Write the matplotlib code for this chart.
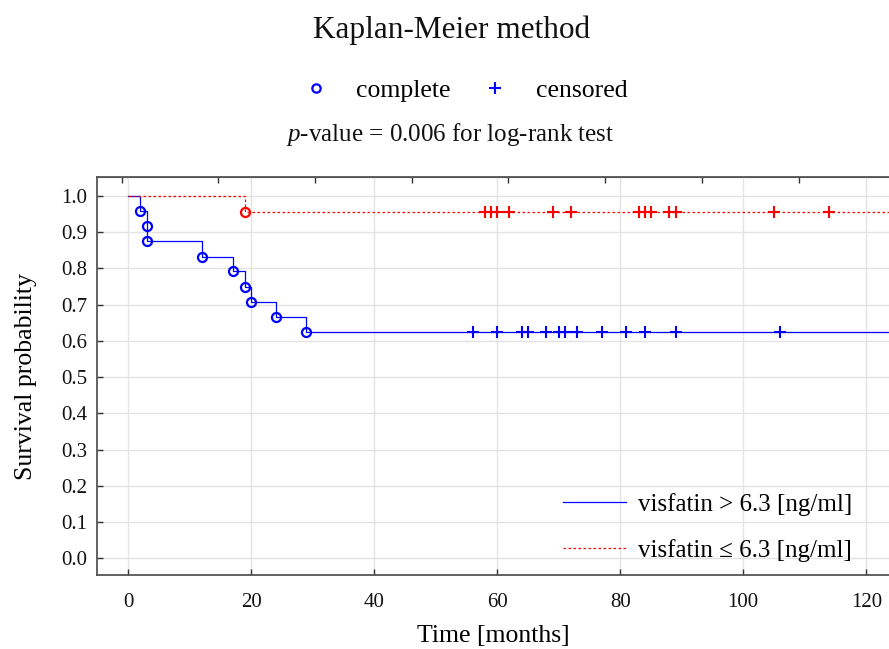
import numpy as np
import matplotlib
matplotlib.use("Agg")
import matplotlib.pyplot as plt
from matplotlib.lines import Line2D

# Group: visfatin > 6.3 ng/ml (blue)
high_event_times = [2, 3, 3, 12, 17, 19, 20, 24, 29]
high_event_surv = [0.958, 0.917, 0.875, 0.833, 0.792, 0.750, 0.708, 0.667, 0.625]
high_censor_times = [56, 60, 64, 65, 68, 70, 71, 73, 77, 81, 84, 89, 106]

# Group: visfatin <= 6.3 ng/ml (red)
low_event_times = [19]
low_event_surv = [0.957]
low_censor_times = [58, 59, 60, 62, 69, 72, 83, 84, 85, 88, 89, 105, 114]

end_time = 124
x_ticks = [0, 20, 40, 60, 80, 100, 120]
y_ticks = [0.0, 0.1, 0.2, 0.3, 0.4, 0.5, 0.6, 0.7, 0.8, 0.9, 1.0]

BLUE = "#0000ff"
RED = "#ff0000"
FONT = "Liberation Serif"

plt.rcParams["font.family"] = FONT
plt.rcParams["mathtext.fontset"] = "custom"
plt.rcParams["mathtext.rm"] = FONT
plt.rcParams["mathtext.it"] = FONT + ":italic"


def step_curve(event_times, event_surv):
    """Build Kaplan-Meier step coordinates starting at (0, 1)."""
    xs = [0] + list(event_times) + [end_time]
    ys = [1.0] + list(event_surv) + [event_surv[-1]]
    return xs, ys


fig = plt.figure(figsize=(8.89, 6.49), dpi=100)
ax = fig.add_axes([0.1088, 0.114, 0.8912, 0.613])

# blue group
hx, hy = step_curve(high_event_times, high_event_surv)
ax.step(hx, hy, where="post", color=BLUE, lw=0.9, zorder=3)
ax.plot(high_event_times, high_event_surv, "o", mfc="none", mec=BLUE,
        ms=6.5, mew=1.6, zorder=4)
ax.plot(high_censor_times, [high_event_surv[-1]] * len(high_censor_times), "+",
        color=BLUE, ms=8, mew=1.5, zorder=4)

# red group
lx, ly = step_curve(low_event_times, low_event_surv)
ax.step(lx, ly, where="post", color=RED, lw=0.9, ls=(0, (2, 2)), zorder=3)
ax.plot(low_event_times, low_event_surv, "o", mfc="none", mec=RED,
        ms=6.5, mew=1.6, zorder=4)
ax.plot(low_censor_times, [low_event_surv[-1]] * len(low_censor_times), "+",
        color=RED, ms=8, mew=1.5, zorder=4)

ax.set_xlim(-5.1, 123.7)
ax.set_ylim(-0.046, 1.052)
ax.set_xticks(x_ticks)
ax.set_yticks(y_ticks)
ax.set_yticklabels([f"{v:.1f}" for v in y_ticks])
ax.grid(True, color="#e3e3e3", lw=1)
ax.set_axisbelow(True)
ax.tick_params(direction="in", length=4, width=1, colors="#333333",
               labelcolor="#111111", labelsize=15)
ax.tick_params(axis="x", pad=13)
ax.tick_params(axis="y", pad=7)
for side in ["left", "bottom", "top"]:
    ax.spines[side].set_color("#555555")
    ax.spines[side].set_linewidth(1.3)
ax.spines["right"].set_visible(False)

# unlabeled ticks along the top edge
top = ax.secondary_xaxis("top")
top.set_xticks(np.arange(-1.05, 120, 15.72))
top.set_xticklabels([])
top.tick_params(direction="in", length=4, width=1, colors="#333333")
top.spines["top"].set_color("#555555")

ax.set_xlabel("Time [months]", fontsize=18.5, labelpad=9.5)
ax.set_ylabel("Survival probability", fontsize=18.5, labelpad=17)

# legend for groups
group_handles = [
    Line2D([], [], color=BLUE, lw=0.9),
    Line2D([], [], color=RED, lw=0.9, ls=(0, (2, 2))),
]
ax.legend(group_handles, ["visfatin > 6.3 [ng/ml]", "visfatin \u2264 6.3 [ng/ml]"],
          loc="center left", bbox_to_anchor=(0.589, 0.12), frameon=False,
          fontsize=18, handlelength=2.52, handletextpad=0.48, labelspacing=0.9,
          borderpad=0, borderaxespad=0)

# marker legend on top
marker_handles = [
    Line2D([], [], ls="none", marker="o", mfc="none", mec=BLUE, ms=6, mew=1.6),
    Line2D([], [], ls="none", marker="+", color=BLUE, ms=8, mew=1.5),
]
fig.legend(marker_handles, ["complete", "censored"], loc="center",
           bbox_to_anchor=(0.516, 0.861), ncol=2, frameon=False, fontsize=18.5,
           handletextpad=0.56, columnspacing=0.75)

fig.text(0.508, 0.953, "Kaplan-Meier method", ha="center", va="center",
         fontsize=22.5, color="#111111")
fig.text(0.506, 0.793, "$p$-value = 0.006 for log-rank test", ha="center",
         va="center", fontsize=18, color="#111111")

fig.savefig("out.png", dpi=100)
